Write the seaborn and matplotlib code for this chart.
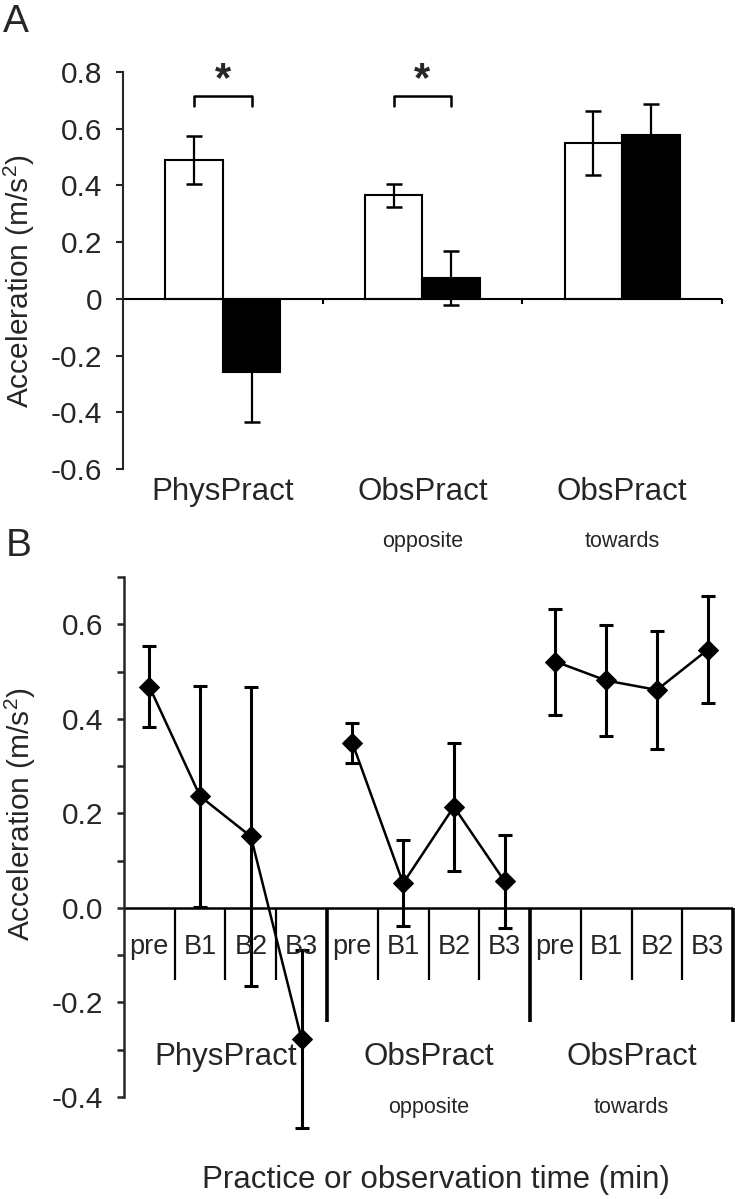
import matplotlib
matplotlib.use('Agg')
import matplotlib.pyplot as plt
import seaborn as sns
import pandas as pd
import numpy as np

# panel A: mean acceleration, white = first, black = second measurement
groups_a = ['PhysPract', 'ObsPract opposite', 'ObsPract towards']
white_vals = [0.49, 0.365, 0.55]
white_err = [0.083, 0.04, 0.113]
black_vals = [-0.257, 0.074, 0.577]
black_err = [0.177, 0.095, 0.11]
sig_groups = [0, 1]

group_names = ['PhysPract', 'ObsPract', 'ObsPract']
group_sub = ['', 'opposite', 'towards']

# panel B: acceleration per block
blocks = ['pre', 'B1', 'B2', 'B3']
phys_vals = [0.468, 0.236, 0.151, -0.278]
phys_err = [0.085, 0.234, 0.316, 0.188]
opp_vals = [0.349, 0.052, 0.214, 0.056]
opp_err = [0.042, 0.091, 0.135, 0.099]
tow_vals = [0.521, 0.481, 0.461, 0.546]
tow_err = [0.112, 0.118, 0.125, 0.113]

sns.set_style('ticks')
plt.rcParams['font.family'] = ['Liberation Sans', 'DejaVu Sans']
plt.rcParams['mathtext.fontset'] = 'custom'
plt.rcParams['mathtext.rm'] = 'Liberation Sans'
plt.rcParams['mathtext.it'] = 'Liberation Sans'

ylab = r'Acceleration (m/s$^{\rm 2}$)'

df_a = pd.DataFrame({
    'group': groups_a * 2,
    'cond': ['first'] * 3 + ['second'] * 3,
    'value': white_vals + black_vals,
})
err_a = [white_err, black_err]

rows = []
for g, (vals, errs) in enumerate([(phys_vals, phys_err), (opp_vals, opp_err), (tow_vals, tow_err)]):
    for i, b in enumerate(blocks):
        rows.append({'group': g, 'pos': g * len(blocks) + i, 'block': b, 'val': vals[i], 'err': errs[i]})
df_b = pd.DataFrame(rows)

fig = plt.figure(figsize=(7.35, 11.99), dpi=100)
axA = fig.add_axes([0.1673, 0.6088, 0.815, 0.3311])
axB = fig.add_axes([0.1687, 0.0851, 0.8286, 0.4337])

# ---- panel A
sns.barplot(data=df_a, x='group', y='value', hue='cond', palette=['white', 'black'],
            edgecolor='black', linewidth=1.5, width=0.575, errorbar=None, legend=False, ax=axA)
bar_conts = list(axA.containers)
centers = []
for k, cont in enumerate(bar_conts):
    cx = []
    for j, bar in enumerate(cont):
        x = bar.get_x() + bar.get_width() / 2
        cx.append(x)
        axA.errorbar(x, bar.get_height(), yerr=err_a[k][j], fmt='none', ecolor='black',
                     elinewidth=1.6, capsize=5.8, capthick=1.8)
    centers.append(cx)

for g in sig_groups:
    x0, x1 = centers[0][g], centers[1][g]
    axA.plot([x0, x0, x1, x1], [0.68, 0.715, 0.715, 0.68], color='black', lw=1.8)
    axA.text((x0 + x1) / 2, 0.70, '*', ha='center', va='bottom', fontsize=30, fontweight='bold')

axA.set_xlim(-0.5, 2.5)
axA.set_ylim(-0.6, 0.8)
sns.despine(ax=axA, bottom=True)
axA.spines['left'].set_linewidth(1.5)
axA.set_yticks(np.arange(-0.6, 0.81, 0.2))
axA.set_yticklabels(['0' if abs(v) < 1e-9 else f'{v:.1f}' for v in np.arange(-0.6, 0.81, 0.2)])
axA.tick_params(axis='y', length=5, width=1.5, labelsize=21.5, pad=10)
axA.set_xticks([])
axA.set_xlabel('')
axA.axhline(0, color='black', lw=1.5)
axA.vlines([0.5, 1.5, 2.5], -0.018, 0, color='black', lw=1.5, clip_on=False)
for g in range(3):
    axA.text(g, -0.68, group_names[g], ha='center', va='center', fontsize=22.5)
    axA.text(g, -0.857, group_sub[g], ha='center', va='center', fontsize=15.5)
axA.set_ylabel(ylab, fontsize=21.5)
axA.yaxis.set_label_coords(-0.143, 0.472)

# ---- panel B
sns.lineplot(data=df_b, x='pos', y='val', units='group', estimator=None, color='black',
             marker='D', markersize=10, markeredgecolor='black', linewidth=1.8,
             legend=False, ax=axB)
eb = axB.errorbar(df_b['pos'], df_b['val'], yerr=df_b['err'], fmt='none', ecolor='black',
                  elinewidth=2.2, capsize=4.7, capthick=2.2)
for art in list(eb.lines[1]) + list(eb.lines[2]):
    art.set_clip_on(False)
for ln in axB.lines:
    ln.set_clip_on(False)
axB.set_xlim(-0.5, 11.5)
axB.set_ylim(-0.4, 0.7)
sns.despine(ax=axB, bottom=True)
axB.spines['left'].set_linewidth(1.8)
major = np.round(np.arange(-0.4, 0.61, 0.2), 1)
axB.set_yticks(major)
axB.set_yticklabels([f'{v:.1f}' if abs(v) > 1e-9 else '0.0' for v in major])
axB.set_yticks([-0.3, -0.1, 0.1, 0.3, 0.5, 0.7], minor=True)
axB.tick_params(axis='y', which='both', length=5, width=1.8, labelsize=21.5, pad=10)
axB.set_xticks([])
axB.set_xlabel('')
axB.axhline(0, color='black', lw=1.8)

n = len(blocks)
short = [g * n + i + 0.5 for g in range(3) for i in range(n - 1)]
long_ = [g * n + n - 0.5 for g in range(3)]
axB.vlines(short, -0.152, 0, color='black', lw=1.6, clip_on=False)
axB.vlines(long_, -0.241, 0, color='black', lw=2.6, clip_on=False)
for p, b in zip(df_b['pos'], df_b['block']):
    axB.text(p, -0.083, b, ha='center', va='center', fontsize=19.5)
for g in range(3):
    xc = g * n + (n - 1) / 2
    axB.text(xc, -0.315, group_names[g], ha='center', va='center', fontsize=22.5)
    axB.text(xc, -0.423, group_sub[g], ha='center', va='center', fontsize=15.5)
axB.set_ylabel(ylab, fontsize=21.5)
axB.yaxis.set_label_coords(-0.141, 0.544)

fig.text(436 / 735, 1 - 1180 / 1199, 'Practice or observation time (min)',
         ha='center', va='center', fontsize=22.5)
fig.text(0.004, 1 - 4 / 1199, 'A', ha='left', va='top', fontsize=28)
fig.text(0.008, 1 - 528 / 1199, 'B', ha='left', va='top', fontsize=28)

fig.savefig('out.png', dpi=100)
